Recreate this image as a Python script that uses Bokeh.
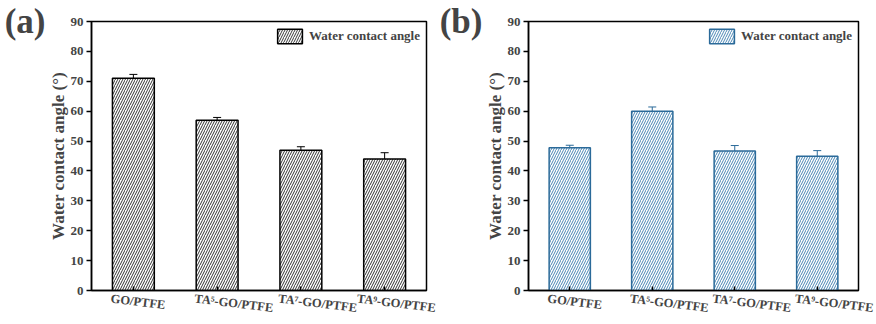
from bokeh.plotting import figure
from bokeh.models import (ColumnDataSource, Whisker, FixedTicker, Range1d,
                          LinearAxis)
from bokeh.layouts import row
from bokeh.embed import file_html
from bokeh.resources import INLINE

categories = ["GO/PTFE", "TA\u2075-GO/PTFE", "TA\u2077-GO/PTFE", "TA\u2079-GO/PTFE"]
values_a = [71.0, 57.0, 46.9, 44.0]
errors_a = [1.3, 0.9, 1.2, 2.1]
values_b = [47.8, 60.0, 46.7, 44.9]
errors_b = [0.8, 1.4, 1.8, 1.9]
y_ticks = [0, 10, 20, 30, 40, 50, 60, 70, 80, 90]
legend_label = "Water contact angle"
y_label = "Water contact angle (\u00b0)"

FONT = "Liberation Serif"


def make_panel(vals, errs, color, hatch_color, tag, width, left, right):
    xs = list(range(1, len(categories) + 1))
    src = ColumnDataSource(dict(
        x=xs, top=vals,
        upper=[v + e for v, e in zip(vals, errs)],
        lower=[v - e for v, e in zip(vals, errs)],
    ))
    p = figure(width=width, height=324, output_backend="svg", toolbar_location=None,
               x_range=Range1d(0.5, 4.5), y_range=Range1d(0, 90),
               min_border_left=left, min_border_right=right,
               min_border_top=21, min_border_bottom=33)
    p.vbar(x="x", top="top", width=0.5, source=src, fill_color="white",
           line_color=color, line_width=1.5, hatch_pattern="/",
           hatch_color=hatch_color, hatch_scale=5, hatch_weight=1,
           legend_label=legend_label)
    w = Whisker(base="x", upper="upper", lower="lower", source=src,
                line_color=color, line_width=1)
    w.upper_head.size = 8
    w.lower_head.size = 8
    w.upper_head.line_color = color
    w.lower_head.line_color = color
    p.add_layout(w)

    p.grid.visible = False
    p.outline_line_color = "black"
    p.outline_line_width = 1.5

    p.yaxis.ticker = FixedTicker(ticks=y_ticks)
    p.yaxis.minor_tick_line_color = None
    p.yaxis.major_tick_in = 0
    p.yaxis.major_tick_out = 5
    p.yaxis.axis_line_width = 1.5
    p.yaxis.major_tick_line_width = 1.5
    p.yaxis.major_label_text_font = FONT
    p.yaxis.major_label_text_font_style = "bold"
    p.yaxis.major_label_text_font_size = "13px"
    p.yaxis.major_label_standoff = 3
    p.yaxis.axis_label = y_label
    p.yaxis.axis_label_text_font = FONT
    p.yaxis.axis_label_text_font_style = "bold"
    p.yaxis.axis_label_text_font_size = "17px"
    p.yaxis.axis_label_standoff = 0

    # panel tag "(a)" / "(b)" as a horizontal axis label on an outer left axis
    tag_axis = LinearAxis(ticker=FixedTicker(ticks=[]), axis_line_color=None,
                          major_tick_line_color=None, minor_tick_line_color=None,
                          major_label_text_font_size="0px",
                          bounds=(0, 86.3),
                          axis_label=tag, axis_label_standoff=0,
                          axis_label_orientation="horizontal",
                          axis_label_align="end",
                          axis_label_text_font=FONT,
                          axis_label_text_font_style="bold",
                          axis_label_text_font_size="35px")
    p.add_layout(tag_axis, "left")

    p.xaxis.ticker = FixedTicker(ticks=xs)
    p.xaxis.major_label_overrides = {x: "" for x in xs}
    p.xaxis.minor_tick_line_color = None
    p.xaxis.major_tick_in = 4
    p.xaxis.major_tick_out = 0
    p.xaxis.major_label_standoff = 0
    p.xaxis.axis_line_width = 1.5
    p.xaxis.major_tick_line_width = 1.5

    label_ticks = [x - 0.27 for x in xs]
    lab_axis = LinearAxis(ticker=FixedTicker(ticks=label_ticks),
                          major_label_overrides={t: c for t, c in zip(label_ticks, categories)},
                          axis_line_color=None, major_tick_line_color=None,
                          minor_tick_line_color=None,
                          major_label_orientation=-0.12,
                          major_label_standoff=2,
                          major_label_text_font=FONT,
                          major_label_text_font_style="bold",
                          major_label_text_font_size="12.5px")
    p.add_layout(lab_axis, "below")

    p.legend.location = "top_right"
    p.legend.border_line_color = None
    p.legend.background_fill_alpha = 0
    p.legend.label_text_font = FONT
    p.legend.label_text_font_style = "bold"
    p.legend.label_text_font_size = "13px"
    p.legend.glyph_width = 31
    p.legend.glyph_height = 18
    p.legend.label_standoff = 4
    p.legend.margin = 6
    p.legend.padding = 2
    return p


pa = make_panel(values_a, errors_a, "black", "#333333", "(a)", 436, 91, 10)
pb = make_panel(values_b, errors_b, "#2b6a99", "#4a86b4", "(b)", 440, 85, 18)
layout = row(pa, pb, spacing=0)

open("out.html", "w").write(file_html(layout, INLINE))
